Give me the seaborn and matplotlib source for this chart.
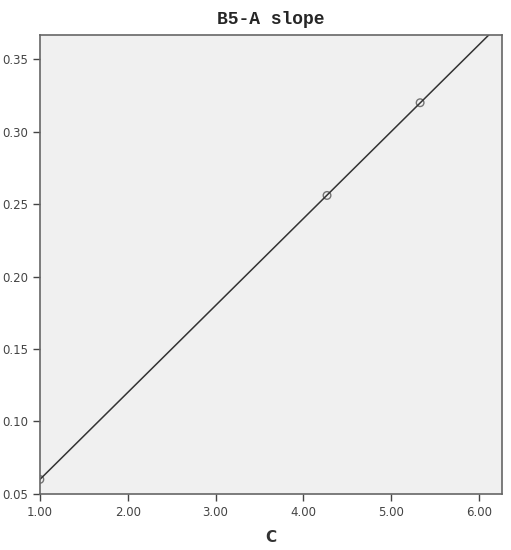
import seaborn as sns
import matplotlib.pyplot as plt
import numpy as np
import pandas as pd

# data
c_vals = [1.00, 4.27, 5.33]
slope_vals = [0.060, 0.256, 0.320]
xticks = [1, 2, 3, 4, 5, 6]
yticks = [0.05, 0.10, 0.15, 0.20, 0.25, 0.30, 0.35]

df = pd.DataFrame({'C': c_vals, 'slope': slope_vals})

sns.set_style('ticks')
fig = plt.figure(figsize=(5.11, 5.5), dpi=100)
ax = fig.add_axes([0.078, 0.102, 0.904, 0.834])
ax.set_facecolor('#f0f0f0')
ax.set_xlim(1.0, 6.26)
ax.set_ylim(0.05, 0.3666)

sns.regplot(data=df, x='C', y='slope', ci=None, truncate=False, ax=ax,
            marker='o',
            scatter_kws={'s': 30, 'facecolors': 'none', 'edgecolors': '#555555', 'linewidths': 1.0},
            line_kws={'color': '#333333', 'linewidth': 1.1})

ax.set_xticks(xticks)
ax.set_xticklabels(['%.2f' % t for t in xticks])
ax.set_yticks(yticks)
ax.set_yticklabels(['%.2f' % t for t in yticks])
ax.tick_params(axis='both', labelsize=8.5, colors='#444444', length=5, width=1, direction='out')
for side in ['top', 'right', 'left', 'bottom']:
    ax.spines[side].set_visible(True)
    ax.spines[side].set_color('#666666')
    ax.spines[side].set_linewidth(1.2)

ax.set_xlabel('C', fontsize=11, fontweight='bold', color='#333333', labelpad=8)
ax.set_ylabel('')
ax.set_title('B5-A slope', fontsize=13, fontweight='bold', family='Liberation Mono', pad=8)

plt.savefig('out.png', dpi=100)
